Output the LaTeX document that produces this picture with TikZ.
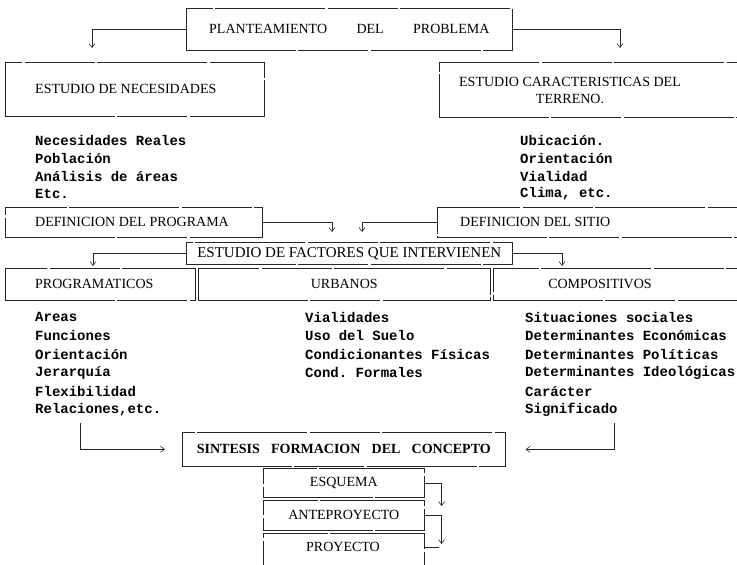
\documentclass[tikz,border=0pt]{standalone}
\usepackage{fontspec}
\setmainfont{Liberation Serif}
\setmonofont{Liberation Mono}
\usetikzlibrary{arrows.meta}

\begin{document}
\begin{tikzpicture}[x=1pt,y=-1pt,
  box/.style={draw=black!85,line width=.6pt,rectangle,anchor=north west,inner sep=0pt,
    font=\fontsize{14}{17}\selectfont,
    dash pattern=on 110pt off 2pt on 70pt off 3pt},
  lbl/.style={font=\fontsize{14}{17}\selectfont,inner sep=0pt,anchor=west},
  item/.style={font=\fontsize{14}{16}\ttfamily\bfseries,anchor=west,inner sep=0pt},
  link/.style={draw=black!85,line width=.6pt,-{Straight Barb[length=4pt,width=6pt]}},
  tie/.style={draw=black!85,line width=.6pt}]
\useasboundingbox (0,0) rectangle (737,565);

% planteamiento
\node[box,minimum width=326pt,minimum height=42pt] (plan) at (186,8)
  {PLANTEAMIENTO\hspace{2.1em}DEL\hspace{2.1em}PROBLEMA};

% estudios
\node[box,minimum width=259pt,minimum height=54pt] (nec) at (5,62) {};
\node[lbl] (necl) at ([xshift=30pt]nec.west) {ESTUDIO DE NECESIDADES};
\node[box,minimum width=300pt,minimum height=55pt] (car) at (439,62) {};
\node[lbl,anchor=center,align=center] (carl) at (570,90)
  {ESTUDIO CARACTERISTICAS DEL\\TERRENO.};
\draw[link] (plan.west) -| ([shift={(87,-14)}]nec.north west);
\draw[link] (plan.east) -| ([shift={(181,-14)}]car.north west);

\foreach \t [count=\i from 0] in {Necesidades Reales,Población,Análisis de áreas,Etc.}
  \node[item] (nec\i) at (35,140+18*\i) {\t};
\foreach \t [count=\i from 0] in {Ubicación.,Orientación,Vialidad,{Clima, etc.}}
  \node[item] (car\i) at (520,140+18*\i) {\t};

% definiciones
\node[box,minimum width=257pt,minimum height=30pt] (defprog) at (5,207) {};
\node[lbl] (defprogl) at ([xshift=30pt]defprog.west) {DEFINICION DEL PROGRAMA};
\node[box,minimum width=304pt,minimum height=30pt] (defsit) at (437,207) {};
\node[lbl] (defsitl) at ([xshift=23pt]defsit.west) {DEFINICION DEL SITIO};

\node[box,minimum width=326pt,minimum height=22pt,font=\fontsize{15}{17}\selectfont] (fact) at (186,242)
  {ESTUDIO DE FACTORES QUE INTERVIENEN};
\draw[link] (defprog.east) -| ([shift={(146,-10)}]fact.north west);
\draw[link] (defsit.west) -| ([shift={(176,-10)}]fact.north west);

% factores
\node[box,minimum width=190pt,minimum height=32pt] (prog) at (5,268) {};
\node[lbl] (progl) at ([xshift=30pt]prog.west) {PROGRAMATICOS};
\node[box,minimum width=292pt,minimum height=32pt] (urb) at (198,268) {URBANOS};
\node[box,minimum width=248pt,minimum height=32pt] (comp) at (493,268) {};
\node[lbl,anchor=center] (compl) at (600,284) {COMPOSITIVOS};
\draw[link] (fact.west) -| ([shift={(88,-2)}]prog.north west);
\draw[link] (fact.east) -| ([shift={(69,-2)}]comp.north west);

\foreach \t [count=\i from 0] in {Areas,Funciones,Orientación,Jerarquía,Flexibilidad,{Relaciones,etc.}}
  \node[item] (prog\i) at (35,317+18.6*\i) {\t};
\foreach \t [count=\i from 0] in {Vialidades,Uso del Suelo,Condicionantes Físicas,Cond. Formales}
  \node[item] (urb\i) at (305,317+18.6*\i) {\t};
\foreach \t [count=\i from 0] in {Situaciones sociales,Determinantes Económicas,Determinantes Políticas,
    Determinantes Ideológicas,Carácter,Significado}
  \node[item] (comp\i) at (525,317+18.6*\i) {\t};

% sintesis
\node[box,minimum width=323pt,minimum height=34pt,font=\fontsize{14}{17}\bfseries] (sint) at (182,432)
  {SINTESIS\hspace{.8em}FORMACION\hspace{.8em}DEL\hspace{.8em}CONCEPTO};
\draw[link] ([shift={(45,6)}]prog5.south west) |- ([xshift=-17pt]sint.west);
\draw[link] ([shift={(-4,6)}]comp5.south east) |- ([xshift=20pt]sint.east);

\node[box,minimum width=161pt,minimum height=29pt] (esq) at (263,468) {ESQUEMA};
\node[box,minimum width=161pt,minimum height=30pt] (ante) at (263,500) {ANTEPROYECTO};
\node[box,minimum width=161pt,minimum height=40pt] (proy) at (263,533) {};
\node[lbl,anchor=center] (proyl) at (343,547) {PROYECTO};
\draw[link] (esq.east) -| ([shift={(17,6)}]ante.north east);
\draw[link] (ante.east) -| ([shift={(17,11)}]proy.north east);
\draw[tie] ([shift={(0,14)}]proy.north east) -- ++(14,0);
\end{tikzpicture}
\end{document}
